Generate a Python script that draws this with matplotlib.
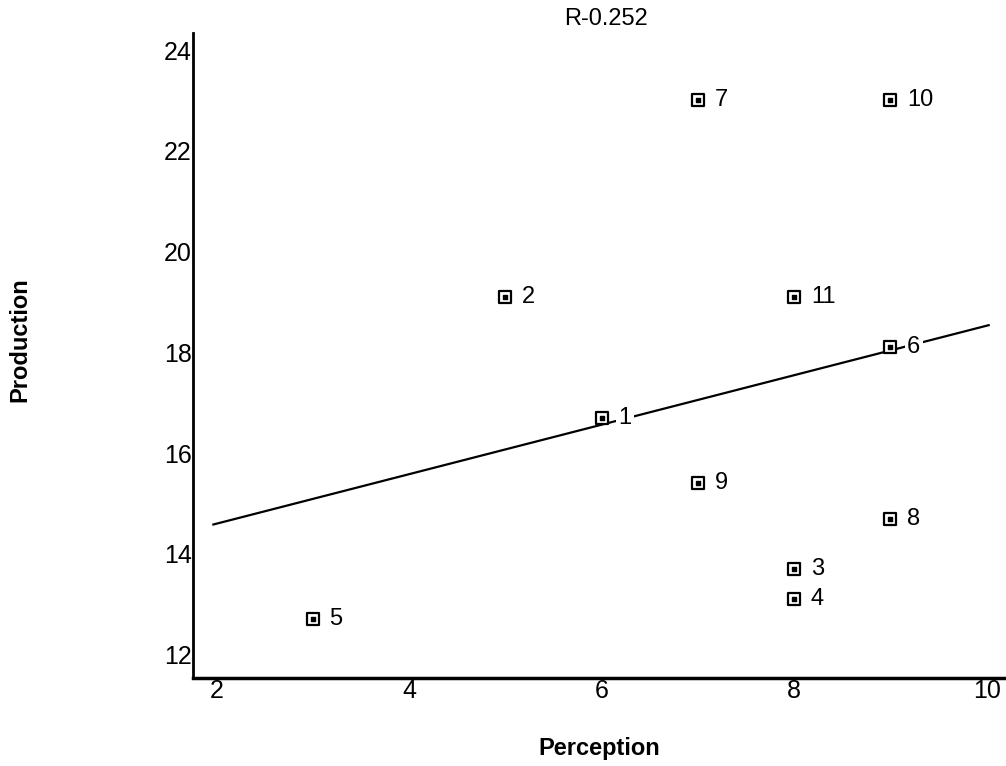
import numpy as np
import matplotlib
matplotlib.use("Agg")
import matplotlib.pyplot as plt

# perception vs production scores, one point per subject
perception = [6, 5, 8, 8, 3, 9, 7, 9, 7, 9, 8]
production = [16.7, 19.1, 13.7, 13.1, 12.7, 18.1, 23.0, 14.7, 15.4, 23.0, 19.1]
point_labels = ["1", "2", "3", "4", "5", "6", "7", "8", "9", "10", "11"]
r_text = "R-0.252"

plt.rcParams['font.family'] = ['Liberation Sans', 'DejaVu Sans']

fig = plt.figure(figsize=(10.06, 7.66), dpi=100)
ax = fig.add_axes([0.192, 0.115, 0.808, 0.842])

# regression line
slope, intercept = np.polyfit(perception, production, 1)
xs = np.array([1.97, 10.02])
ax.plot(xs, slope * xs + intercept, color='black', lw=1.6, zorder=1)

ax.scatter(perception, production, marker='s', s=70, facecolor='white',
           edgecolor='black', linewidths=1.6, zorder=3)
ax.scatter(perception, production, marker='s', s=6, color='black', zorder=4)

for x, y, lab in zip(perception, production, point_labels):
    ax.annotate(lab, (x, y), xytext=(12, 0), textcoords='offset points',
                ha='left', va='center', fontsize=17, zorder=5,
                bbox=dict(boxstyle='square,pad=0.1', fc='white', ec='none'))

ax.set_xlim(1.76, 10.2)
ax.set_ylim(11.54, 24.34)
ax.set_xticks([2, 4, 6, 8, 10])
ax.set_yticks([12, 14, 16, 18, 20, 22, 24])
ax.tick_params(length=0, labelsize=18, pad=1)

ax.spines['top'].set_visible(False)
ax.spines['right'].set_visible(False)
ax.spines['left'].set_linewidth(2)
ax.spines['bottom'].set_linewidth(2.5)

ax.set_xlabel("Perception", fontsize=17, fontweight='black')
ax.set_ylabel("Production", fontsize=17, fontweight='black')
ax.xaxis.set_label_coords(0.5, -0.109)
ax.yaxis.set_label_coords(-0.213, 0.524)
ax.xaxis.label.set_va('center')
ax.yaxis.label.set_va('center')
ax.text(6.05, 24.4, r_text, ha='center', va='bottom', fontsize=17)

fig.savefig("out.png", dpi=100)
